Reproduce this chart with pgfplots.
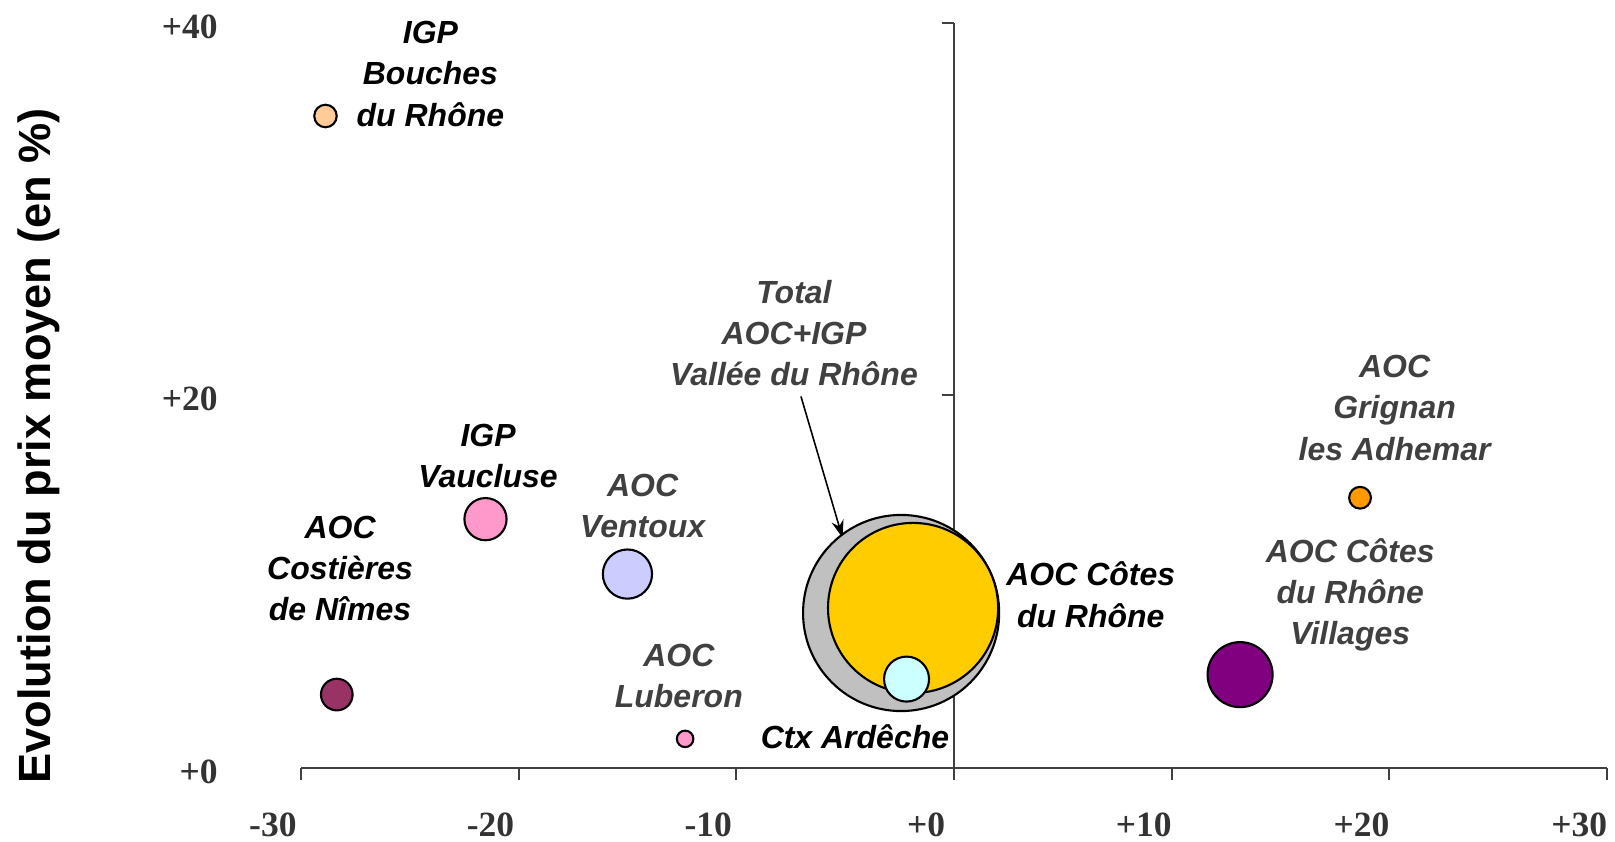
\documentclass[border=0pt]{standalone}
\usepackage{fontspec}
\setmainfont{Liberation Serif}
\newfontfamily\lsans{Liberation Sans}
\usepackage{pgfplots}
\pgfplotsset{compat=1.18}
\usetikzlibrary{arrows.meta}

\definecolor{axgray}{HTML}{404040}
\definecolor{txgray}{HTML}{404040}
\definecolor{tkgray}{HTML}{333333}

\tikzset{lab/.style={align=center, inner sep=0pt,
  font=\lsans\bfseries\itshape\fontsize{9.1}{11.7}\selectfont}}

\begin{document}
\begin{tikzpicture}
\begin{axis}[
  x=2.177mm, y=1.862mm,
  xmin=-30, xmax=30, ymin=0, ymax=40,
  axis x line=bottom, axis y line=center,
  axis line style={draw=axgray, line width=0.55pt, -},
  hide obscured x ticks=false, hide obscured y ticks=false,
  xtick={-30,-20,...,30}, xticklabels={-30,-20,-10,+0,+10,+20,+30},
  ytick={0,20,40}, yticklabels={+0,+20,+40},
  tick style={draw=axgray, line width=0.55pt},
  major tick length=1.2mm,
  tick align=outside,
  tick label style={font=\bfseries\fontsize{10.1}{12}\selectfont, text=tkgray},
  xticklabel style={xshift=-2.8mm, yshift=-3.1mm, inner sep=0.5pt},
  yticklabel style={anchor=east, xshift=-71.2mm, yshift=-0.4mm},
  clip=false,
  every axis y label/.style={at={(rel axis cs:-0.2005,0.432)}, rotate=90, anchor=center},
  ylabel style={font=\lsans\bfseries\fontsize{12.85}{15}\selectfont, inner sep=0pt},
  ylabel={Evolution du prix moyen (en \%)},
]
% page size
\path (axis cs:-43.82,-3.94) rectangle (axis cs:30.36,41.23);

% bubbles: radius
\addplot[only marks, mark=*, mark size=3.2pt, mark options={fill={rgb,255:red,255;green,204;blue,153}, draw=black, line width=0.6pt}]
  coordinates {(-28.87,35.0)};      % IGP Bouches du Rhone
\addplot[only marks, mark=*, mark size=6.0pt, mark options={fill={rgb,255:red,255;green,153;blue,204}, draw=black, line width=0.6pt}]
  coordinates {(-21.52,13.35)};     % IGP Vaucluse
\addplot[only marks, mark=*, mark size=4.5pt, mark options={fill={rgb,255:red,153;green,51;blue,102}, draw=black, line width=0.6pt}]
  coordinates {(-28.35,3.93)};      % AOC Costieres
\addplot[only marks, mark=*, mark size=7.0pt, mark options={fill={rgb,255:red,204;green,204;blue,255}, draw=black, line width=0.6pt}]
  coordinates {(-15.0,10.4)};       % AOC Ventoux
\addplot[only marks, mark=*, mark size=2.35pt, mark options={fill={rgb,255:red,255;green,153;blue,204}, draw=black, line width=0.6pt}]
  coordinates {(-12.35,1.55)};      % AOC Luberon
\addplot[only marks, mark=*, mark size=27.9pt, mark options={fill={rgb,255:red,192;green,192;blue,192}, draw=black, line width=0.6pt}]
  coordinates {(-2.43,8.31)};       % Total
\addplot[only marks, mark=*, mark size=24.2pt, mark options={fill={rgb,255:red,255;green,204;blue,0}, draw=black, line width=0.6pt}]
  coordinates {(-1.88,8.58)};       % AOC Cotes du Rhone
\addplot[only marks, mark=*, mark size=6.4pt, mark options={fill={rgb,255:red,204;green,255;blue,255}, draw=black, line width=0.6pt}]
  coordinates {(-2.18,4.76)};       % Ctx Ardeche
\addplot[only marks, mark=*, mark size=9.25pt, mark options={fill={rgb,255:red,128;green,0;blue,128}, draw=black, line width=0.6pt}]
  coordinates {(13.14,5.0)};        % Villages
\addplot[only marks, mark=*, mark size=3.1pt, mark options={fill={rgb,255:red,255;green,153;blue,0}, draw=black, line width=0.6pt}]
  coordinates {(18.65,14.5)};       % Grignan

% labels
\node[lab] at (axis cs:-24.05,37.26) {IGP\\Bouches\\du Rhône};
\node[lab] at (axis cs:-21.4,16.72) {IGP\\Vaucluse};
\node[lab] at (axis cs:-28.2,10.69) {AOC\\Costières\\de Nîmes};
\node[lab, text=txgray] at (axis cs:-14.3,14.04) {AOC\\Ventoux};
\node[lab, text=txgray] at (axis cs:-12.64,4.94) {AOC\\Luberon};
\node[lab] at (axis cs:-4.55,1.68) {Ctx Ardêche};
\node[lab, text=txgray] at (axis cs:-7.35,23.36) {Total\\AOC+IGP\\Vallée du Rhône};
\node[lab] at (axis cs:6.28,9.29) {AOC Côtes\\du Rhône};
\node[lab, text=txgray] at (axis cs:20.24,19.32) {AOC\\Grignan\\les Adhemar};
\node[lab, text=txgray] at (axis cs:18.2,9.29) {AOC Côtes\\du Rhône\\Villages};

\draw[line width=0.45pt, -{Stealth[length=5pt, width=3.5pt]}] (axis cs:-7.03,19.94) -- (axis cs:-5.12,12.35);
\end{axis}
\end{tikzpicture}
\end{document}
